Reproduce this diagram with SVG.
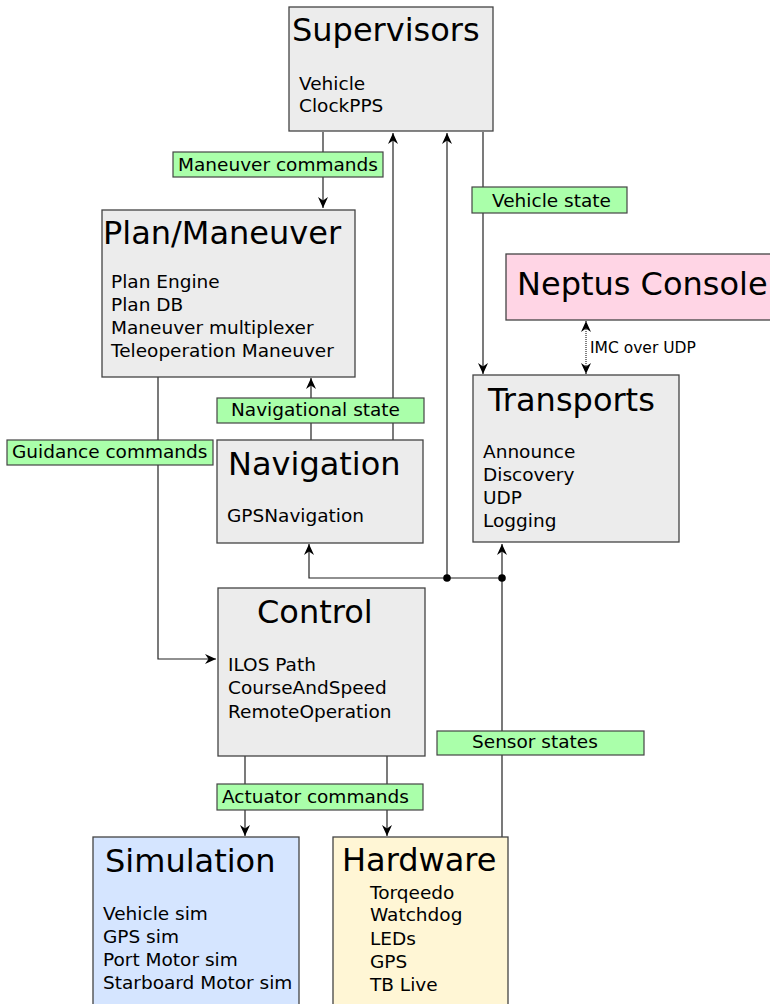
<svg xmlns="http://www.w3.org/2000/svg" width="770" height="1004" viewBox="0 0 770 1004">
<style>
.box{stroke:#444;stroke-width:1.3}
.grey{fill:#ececec}
.title{font-family:"DejaVu Sans",sans-serif;font-size:32px;fill:#000}
.item{font-family:"DejaVu Sans",sans-serif;font-size:18.5px;fill:#000}
.lbl{fill:#aaffaa;stroke:#444;stroke-width:1.2}
.lt{font-family:"DejaVu Sans",sans-serif;font-size:18.5px;fill:#000}
.small{font-family:"DejaVu Sans",sans-serif;font-size:15.5px;fill:#000}
.c{fill:none;stroke:#222;stroke-width:1.2}
</style>
<defs>
<marker id="ah" viewBox="-12 -6 13 12" refX="0" refY="0" markerWidth="13" markerHeight="12" markerUnits="userSpaceOnUse" orient="auto-start-reverse">
<path d="M-11,-5 L0,0 L-11,5 L-7.5,0 Z" fill="#000"/>
</marker>
</defs>
<rect width="770" height="1004" fill="#fff"/>

<g id="connectors">
<path class="c" d="M323,132 V208" marker-end="url(#ah)"/>
<path class="c" d="M393,440 V133" marker-end="url(#ah)"/>
<path class="c" d="M447,578 V133" marker-end="url(#ah)"/>
<path class="c" d="M483,132 V374" marker-end="url(#ah)"/>
<path class="c" d="M311,440 V378" marker-end="url(#ah)"/>
<path class="c" d="M158,377 V659 H216" marker-end="url(#ah)"/>
<path class="c" d="M502,837 V578 H309 V544" marker-end="url(#ah)"/>
<path class="c" d="M502,578 V544" marker-end="url(#ah)"/>
<path d="M586,321 V374" fill="none" stroke="#555" stroke-width="1.5" stroke-dasharray="1,1" marker-start="url(#ah)" marker-end="url(#ah)"/>
<path class="c" d="M245,756 V836" marker-end="url(#ah)"/>
<path class="c" d="M387,756 V836" marker-end="url(#ah)"/>
<circle cx="447" cy="578" r="3.8" fill="#000"/>
<circle cx="502" cy="578" r="3.8" fill="#000"/>
</g>

<g id="supervisors">
<rect class="box grey" x="289" y="7" width="204" height="124"/>
<text class="title" x="292" y="41">Supervisors</text>
<text class="item" x="299" y="90">Vehicle</text>
<text class="item" x="299" y="112">ClockPPS</text>
</g>

<g id="plan-maneuver">
<rect class="box grey" x="102" y="210" width="253" height="167"/>
<text class="title" x="103" y="244">Plan/Maneuver</text>
<text class="item" x="111" y="288">Plan Engine</text>
<text class="item" x="111" y="311">Plan DB</text>
<text class="item" x="111" y="334">Maneuver multiplexer</text>
<text class="item" x="111" y="357">Teleoperation Maneuver</text>
</g>

<g id="neptus-console">
<rect class="box" fill="#ffd5e5" x="506" y="254" width="265" height="66"/>
<text class="title" x="517" y="295">Neptus Console</text>
</g>

<g id="transports">
<rect class="box grey" x="473" y="375" width="206" height="167"/>
<text class="title" x="488" y="411">Transports</text>
<text class="item" x="483" y="458">Announce</text>
<text class="item" x="483" y="481">Discovery</text>
<text class="item" x="483" y="504">UDP</text>
<text class="item" x="483" y="527">Logging</text>
</g>

<g id="navigation">
<rect class="box grey" x="217" y="440" width="206" height="103"/>
<text class="title" x="228" y="475">Navigation</text>
<text class="item" x="227" y="522">GPSNavigation</text>
</g>

<g id="control">
<rect class="box grey" x="218" y="588" width="207" height="168"/>
<text class="title" x="257" y="623">Control</text>
<text class="item" x="228" y="671">ILOS Path</text>
<text class="item" x="228" y="694">CourseAndSpeed</text>
<text class="item" x="228" y="718">RemoteOperation</text>
</g>

<g id="simulation">
<rect class="box" fill="#d5e5ff" x="93" y="837" width="206" height="180"/>
<text class="title" x="105" y="872">Simulation</text>
<text class="item" x="103" y="920">Vehicle sim</text>
<text class="item" x="103" y="943">GPS sim</text>
<text class="item" x="103" y="966">Port Motor sim</text>
<text class="item" x="103" y="989">Starboard Motor sim</text>
</g>

<g id="hardware">
<rect class="box" fill="#fff6d5" x="333" y="837" width="175" height="180"/>
<text class="title" x="342" y="871">Hardware</text>
<text class="item" x="370" y="899">Torqeedo</text>
<text class="item" x="370" y="921">Watchdog</text>
<text class="item" x="370" y="945">LEDs</text>
<text class="item" x="370" y="968">GPS</text>
<text class="item" x="370" y="991">TB Live</text>
</g>

<g id="labels">
<g id="lbl-maneuver-commands"><rect class="lbl" x="173" y="152" width="210" height="25"/><text class="lt" x="178" y="171">Maneuver commands</text></g>
<g id="lbl-vehicle-state"><rect class="lbl" x="472" y="187" width="155" height="26"/><text class="lt" x="492" y="207">Vehicle state</text></g>
<g id="lbl-navigational-state"><rect class="lbl" x="217" y="398" width="207" height="25"/><text class="lt" x="231" y="416">Navigational state</text></g>
<g id="lbl-guidance-commands"><rect class="lbl" x="7" y="440" width="206" height="25"/><text class="lt" x="12" y="458">Guidance commands</text></g>
<g id="lbl-sensor-states"><rect class="lbl" x="437" y="731" width="207" height="24"/><text class="lt" x="472" y="748">Sensor states</text></g>
<g id="lbl-actuator-commands"><rect class="lbl" x="217" y="784" width="206" height="26"/><text class="lt" x="222" y="803">Actuator commands</text></g>
<text class="small" x="590" y="353">IMC over UDP</text>
</g>
</svg>
